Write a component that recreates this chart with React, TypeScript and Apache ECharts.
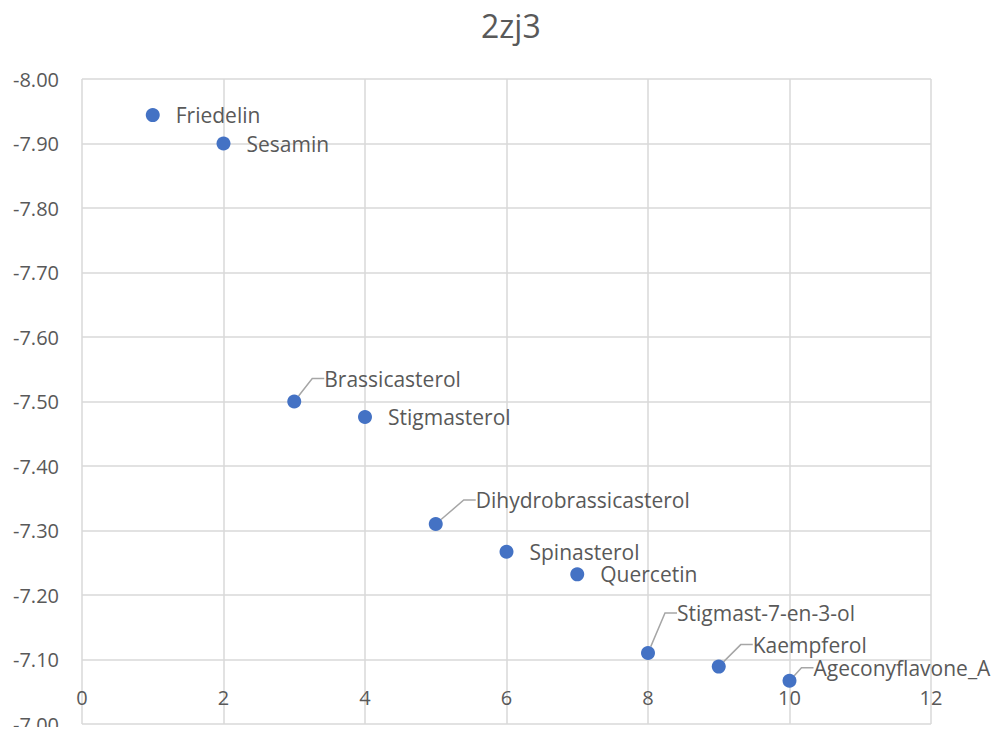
import React, { useEffect, useRef } from "react";
import * as echarts from "echarts";

const names = [
  "Friedelin",
  "Sesamin",
  "Brassicasterol",
  "Stigmasterol",
  "Dihydrobrassicasterol",
  "Spinasterol",
  "Quercetin",
  "Stigmast-7-en-3-ol",
  "Kaempferol",
  "Ageconyflavone_A",
];
const xValues = [1, 2, 3, 4, 5, 6, 7, 8, 9, 10];
const yValues = [-7.944, -7.9, -7.5, -7.476, -7.31, -7.267, -7.232, -7.11, -7.089, -7.067];

// label displacement (px) for labels that were dragged away from the point
const labelShift: Record<string, [number, number]> = {
  Brassicasterol: [-2, -23],
  Dihydrobrassicasterol: [8, -24],
  "Stigmast-7-en-3-ol": [-3, -40],
  Kaempferol: [2, -22],
  Ageconyflavone_A: [-8, -13],
};

const FONT = "'Open Sans', 'Liberation Sans', sans-serif";
const GRAY = "#595959";

export default function App() {
  const ref = useRef<HTMLDivElement>(null);
  useEffect(() => {
    if (!ref.current) return;
    const chart = echarts.init(ref.current, null, { renderer: "svg" });
    const data = names.map((n, i) => {
      const shifted = !!labelShift[n];
      return {
        name: n,
        value: [xValues[i], yValues[i]],
        label: shifted ? { padding: [0, 0, 0, 9] } : {},
        labelLine: { show: shifted },
      };
    });
    chart.setOption({
      animation: false,
      backgroundColor: "#ffffff",
      title: {
        text: "2zj3",
        left: 476,
        top: 4,
        textStyle: { fontFamily: FONT, fontSize: 32, fontWeight: "normal", color: GRAY },
      },
      grid: { left: 82, right: 68, top: 79, bottom: 11, containLabel: false },
      xAxis: {
        type: "value",
        min: 0,
        max: 12,
        interval: 2,
        axisLine: { show: false },
        axisTick: { show: false },
        axisLabel: { margin: -37, fontFamily: FONT, fontSize: 20, color: GRAY },
        splitLine: { show: true, lineStyle: { color: "#d9d9d9", width: 1.5 } },
      },
      yAxis: {
        type: "value",
        inverse: true,
        min: -8,
        max: -7,
        interval: 0.1,
        axisLine: { show: false },
        axisTick: { show: false },
        axisLabel: {
          margin: 23,
          fontFamily: FONT,
          fontSize: 20,
          color: GRAY,
          formatter: (v: number) => v.toFixed(2),
        },
        splitLine: { show: true, lineStyle: { color: "#d9d9d9", width: 1.5 } },
      },
      series: [
        {
          type: "scatter",
          symbolSize: 14,
          itemStyle: { color: "#4472C4", opacity: 1 },
          data,
          label: {
            show: true,
            position: "right",
            distance: 16,
            formatter: "{b}",
            fontFamily: FONT,
            fontSize: 21,
            color: GRAY,
          },
          labelLine: { show: false, length2: 12, lineStyle: { color: "#a6a6a6", width: 1.5 } },
          labelLayout: (p: any) => {
            const s = labelShift[names[p.dataIndex]];
            return s ? { dx: s[0], dy: s[1] } : {};
          },
        },
      ],
    });
    return () => chart.dispose();
  }, []);
  return <div ref={ref} style={{ width: 999, height: 735, margin: -8 }} />;
}
